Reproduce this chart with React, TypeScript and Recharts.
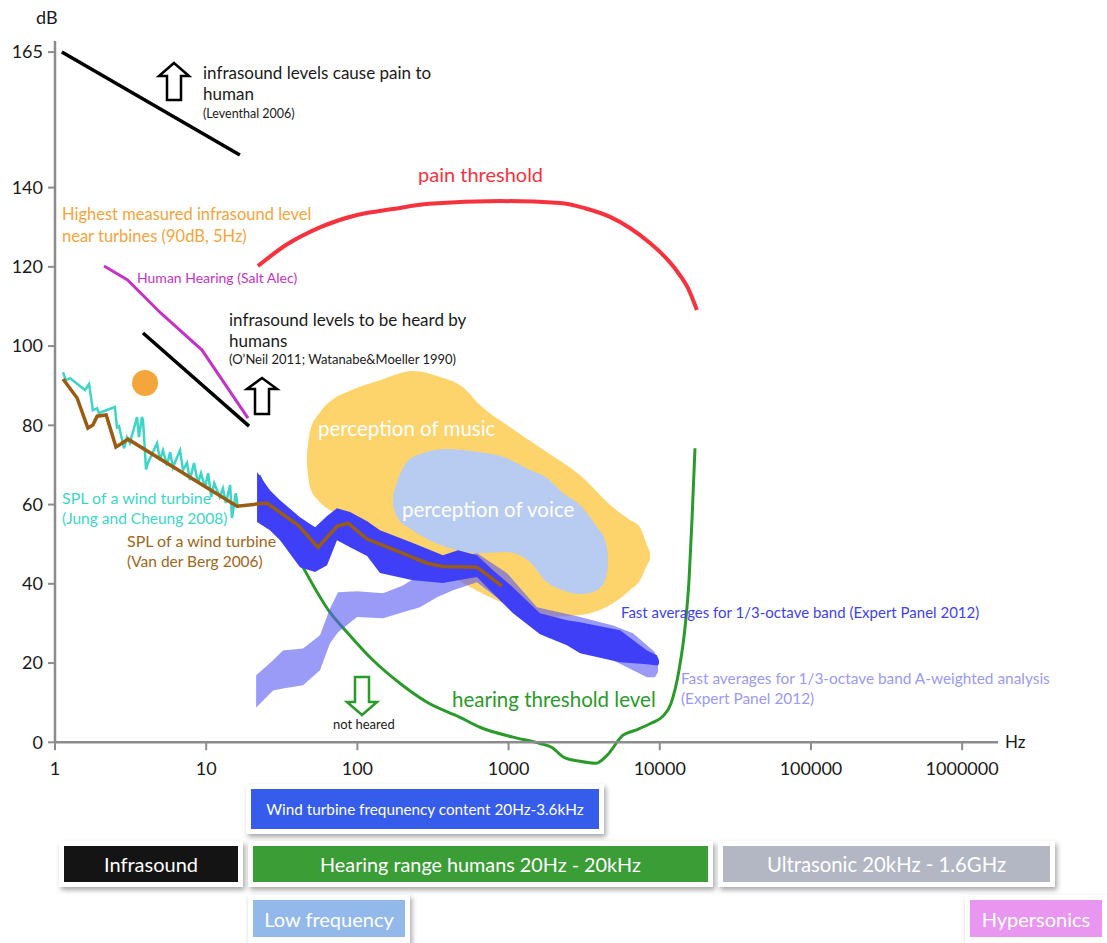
import React from 'react';
import { ComposedChart, Line, Area, Scatter, XAxis, YAxis, ReferenceLine, ReferenceDot } from 'recharts';

// ---------- axis ticks ----------
const freqTicks = [1, 10, 100, 1000, 10000, 100000, 1000000];
const dbTicks = [0, 20, 40, 60, 80, 100, 120, 140, 174.2];
const topTickLabel = '165';

// ---------- series (Hz, dB) ----------
const painInfraHz = [1.11, 16.7];
const painInfraDb = [174.2, 148.2];

const heardInfraHz = [3.82, 19.2];
const heardInfraDb = [103.3, 79.8];

const saltHz = [2.11, 3.02, 5.02, 9.38, 18.9];
const saltDb = [120.2, 116.7, 108.3, 99.0, 81.8];

const painHz = [22.0, 33.7, 57.5, 99.4, 172, 298, 877, 2190, 3200, 4690, 6350, 8610, 10820, 13000, 15370, 17600];
const painDb = [120.2, 125.5, 130.1, 133.1, 134.6, 135.9, 136.6, 136.1, 134.8, 132.6, 129.8, 126.0, 122.5, 118.9, 114.6, 109.1];

const jungHz = [1.13, 1.18, 1.26, 1.58, 1.68, 1.78, 1.9, 1.95, 2.49, 2.57, 2.65, 2.86, 2.99, 3.13, 3.49, 3.59, 3.76, 3.82, 4.0, 4.12, 4.73, 4.95, 5.18, 5.5, 5.77, 6.03, 6.71, 7.03, 7.46, 7.81, 8.3, 8.83, 9.24, 9.82, 10.3, 10.8, 11.3, 12.0, 12.3, 12.9, 13.5, 14.4, 14.8, 15.7, 16.2];
const jungDb = [93.4, 91.4, 91.9, 88.9, 90.4, 83.8, 84.3, 83.1, 84.6, 79.5, 79.8, 74.2, 77.0, 75.5, 82.1, 77.0, 82.1, 81.3, 68.9, 70.5, 75.5, 71.2, 73.7, 69.9, 73.2, 69.4, 73.7, 68.7, 70.5, 66.2, 70.5, 65.4, 67.9, 64.4, 67.9, 61.9, 65.4, 62.9, 61.9, 64.1, 60.4, 64.9, 56.6, 62.9, 59.1];

const vdbHz = [1.13, 1.4, 1.65, 1.78, 1.9, 2.18, 2.53, 3.04, 16.0, 25.2, 40.5, 54.9, 73.3, 86.7, 116, 191, 289, 368, 618, 904];
const vdbDb = [91.7, 86.9, 79.3, 80.1, 82.3, 82.6, 74.5, 76.5, 59.6, 60.4, 54.8, 49.2, 54.5, 55.3, 51.3, 48.0, 45.2, 44.4, 44.2, 39.4];

const hearingHz = [22.4, 25.6, 33.2, 43.7, 65.9, 85.4, 127, 191, 289, 477, 647, 1070, 1614, 1936, 2324, 2966, 3785, 4477, 5715, 6860, 8750, 10500, 11860, 13400, 14690, 15610, 16330, 17100];
const hearingDb = [67.4, 62.4, 53.0, 44.2, 32.8, 27.8, 20.7, 14.9, 10.1, 6.3, 3.8, 1.3, -0.3, -1.3, -3.8, -4.8, -5.3, -3.3, 1.8, 3.0, 4.8, 6.6, 9.8, 18.2, 29.0, 40.9, 56.1, 74.2];

const turbineMaxHz = [3.94];
const turbineMaxDb = [90.7];

// band: Fast averages 1/3-octave (Expert Panel 2012)
const fastHz = [21.7, 26.4, 30.8, 41.7, 52.5, 63.0, 73.3, 89.4, 116, 141, 233, 368, 463, 618, 789, 1070, 1614, 2432, 2970, 5458, 8230, 9575, 9880];
const fastHi = [68.2, 63.6, 61.1, 56.8, 54.3, 57.1, 59.1, 58.1, 55.8, 53.5, 50.3, 47.2, 48.5, 47.2, 43.4, 39.1, 32.6, 30.8, 30.3, 28.3, 23.2, 22.0, 20.7];
const fastLo = [55.6, 53.5, 51.0, 44.2, 43.0, 44.7, 51.0, 49.2, 47.0, 42.7, 40.9, 40.2, 40.9, 41.7, 37.6, 32.6, 27.3, 24.5, 22.5, 20.2, 19.7, 19.4, 19.7];

// band: A-weighted
const aHz = [21.4, 27.7, 32.2, 43.7, 56.6, 65.9, 74.5, 99.4, 148, 200, 259, 336, 429, 618, 975, 1540, 2970, 4900, 6650, 8230, 9290, 9730];
const aHi = [16.9, 20.7, 23.2, 23.7, 27.0, 33.8, 37.9, 38.1, 37.6, 39.6, 42.2, 44.7, 46.7, 47.7, 42.7, 34.1, 31.6, 29.5, 27.5, 24.5, 22.7, 19.4];
const aLo = [8.8, 13.1, 13.6, 14.4, 18.2, 25.0, 27.8, 31.6, 31.3, 32.8, 34.1, 36.6, 38.4, 40.4, 34.6, 28.3, 23.2, 20.7, 18.2, 16.4, 16.4, 17.7];

// perception of music
const musicHz = [46.4, 48.6, 56.6, 69.0, 85.4, 141, 233, 352, 499, 647, 1070, 1795, 2970, 4900, 6350, 7400, 8230, 8610];
const musicHi = [72.5, 78.5, 83.3, 86.6, 88.4, 91.4, 93.7, 92.2, 89.6, 85.1, 79.0, 73.2, 67.4, 59.3, 56.1, 54.3, 49.8, 48.0];
const musicLo = [69.9, 64.4, 60.6, 58.1, 55.6, 52.3, 47.3, 43.4, 40.2, 37.9, 34.1, 31.6, 32.1, 35.1, 38.4, 40.9, 44.7, 46.0];

// perception of voice
const voiceHz = [172, 183, 233, 391, 647, 975, 1386, 1795, 2290, 2970, 3845, 4340, 4540];
const voiceHi = [62.4, 65.7, 72.0, 74.0, 73.2, 71.7, 68.7, 66.7, 62.9, 59.8, 54.3, 51.0, 47.7];
const voiceLo = [59.8, 56.8, 53.5, 49.2, 47.7, 48.0, 45.5, 40.4, 38.4, 37.4, 38.4, 40.9, 43.9];

// ---------- merged table for the chart ----------
type Row = { x: number; [k: string]: number };
const rowMap = new Map<number, Row>();
function put(key: string, xs: number[], ys: number[]) {
  xs.forEach((x, i) => {
    let r = rowMap.get(x);
    if (!r) { r = { x }; rowMap.set(x, r); }
    r[key] = ys[i];
  });
}
put('painInfra', painInfraHz, painInfraDb);
put('heardInfra', heardInfraHz, heardInfraDb);
put('salt', saltHz, saltDb);
put('pain', painHz, painDb);
put('jung', jungHz, jungDb);
put('vdb', vdbHz, vdbDb);
put('hearing', hearingHz, hearingDb);
put('fastHi', fastHz, fastHi);
put('fastLo', fastHz, fastLo);
put('aHi', aHz, aHi);
put('aLo', aHz, aLo);
put('musicHi', musicHz, musicHi);
put('musicLo', musicHz, musicLo);
put('voiceHi', voiceHz, voiceHi);
put('voiceLo', voiceHz, voiceLo);
const table = Array.from(rowMap.values()).sort((a, b) => a.x - b.x);
const dotData = turbineMaxHz.map((x, i) => ({ x, y: turbineMaxDb[i] }));

const range = (lo: string, hi: string) => (d: Row) =>
  d[lo] != null && d[hi] != null ? [d[lo], d[hi]] : [null, null];

// ---------- annotations ----------
const notes = [
  { t: 'dB', x: 36, y: 18, s: 18, c: '#1a1a1a' },
  { t: 'Hz', x: 1005, y: 743, s: 17, c: '#1a1a1a' },
  { t: 'infrasound levels cause pain to', x: 203, y: 74, s: 17, c: '#1a1a1a' },
  { t: 'human', x: 203, y: 95, s: 17, c: '#1a1a1a' },
  { t: '(Leventhal 2006)', x: 203, y: 114, s: 12.5, c: '#1a1a1a' },
  { t: 'pain threshold', x: 418, y: 174, s: 20, c: '#f7323f' },
  { t: 'Highest measured infrasound level', x: 62, y: 215, s: 16.5, c: '#f5a43a' },
  { t: 'near turbines (90dB, 5Hz)', x: 62, y: 237, s: 16.5, c: '#f5a43a' },
  { t: 'Human Hearing (Salt Alec)', x: 137, y: 279, s: 14, c: '#c533c5' },
  { t: 'infrasound levels to be heard by', x: 229, y: 321, s: 17, c: '#1a1a1a' },
  { t: 'humans', x: 229, y: 342, s: 17, c: '#1a1a1a' },
  { t: '(O\u2019Neil 2011; Watanabe&Moeller 1990)', x: 229, y: 360, s: 13, c: '#1a1a1a' },
  { t: 'perception of music', x: 318, y: 429, s: 20.5, c: '#ffffff' },
  { t: 'perception of voice', x: 402, y: 510, s: 20.5, c: '#ffffff' },
  { t: 'SPL of a wind turbine', x: 62, y: 498, s: 16, c: '#3dd6c6' },
  { t: '(Jung and Cheung 2008)', x: 62, y: 519, s: 15.5, c: '#3dd6c6' },
  { t: 'SPL of a wind turbine', x: 127, y: 541, s: 16, c: '#a0661a' },
  { t: '(Van der Berg 2006)', x: 127, y: 562, s: 15.5, c: '#a0661a' },
  { t: 'Fast averages for 1/3-octave band (Expert Panel 2012)', x: 621, y: 612, s: 15, c: '#3f3ff5' },
  { t: 'Fast averages for 1/3-octave band A-weighted analysis', x: 681, y: 679, s: 15.4, c: '#9a9af5' },
  { t: '(Expert Panel 2012)', x: 681, y: 699, s: 15.4, c: '#9a9af5' },
  { t: 'hearing threshold level', x: 452, y: 700, s: 20.5, c: '#2a9a2a' },
  { t: 'not heared', x: 333, y: 725, s: 13, c: '#1a1a1a' },
];

const boxes = [
  { t: 'Wind turbine frequnency content 20Hz-3.6kHz', x: 246, y: 784, w: 358, h: 50, bg: '#355cea', s: 15.3 },
  { t: 'Infrasound', x: 59, y: 841, w: 184, h: 46, bg: '#141414', s: 20 },
  { t: 'Hearing range humans 20Hz - 20kHz', x: 248, y: 841, w: 465, h: 46, bg: '#3a9d36', s: 19.8 },
  { t: 'Ultrasonic 20kHz - 1.6GHz', x: 718, y: 841, w: 337, h: 46, bg: '#b3b7c4', s: 20.3 },
  { t: 'Low frequency', x: 248, y: 895, w: 162, h: 48, bg: '#92b9ea', s: 20 },
  { t: 'Hypersonics', x: 965, y: 895, w: 142, h: 48, bg: '#e896f0', s: 20 },
];

const AXIS = '#8c8c8c';

export default function App() {
  return (
    <div style={{ position: 'absolute', left: 0, top: 0, width: 1107, height: 943, background: '#fff', fontFamily: 'Lato, "Open Sans", sans-serif', overflow: 'hidden' }}>
      <ComposedChart width={1107} height={943} data={table} margin={{ top: 41, right: 109, bottom: 169, left: 0 }}>
        <XAxis dataKey="x" type="number" scale="log" domain={[1, 1726000]} allowDataOverflow hide />
        <YAxis
          type="number"
          domain={[-8, 177]}
          ticks={dbTicks}
          interval={0}
          width={55}
          axisLine={false}
          tickLine={{ stroke: AXIS, strokeWidth: 2 }}
          tickSize={7}
          tickMargin={5}
          tick={{ fill: '#1a1a1a', fontSize: 18 }}
          tickFormatter={(v: number) => (v > 150 ? topTickLabel : String(v))}
        />
        <Area type="monotone" dataKey={range('musicLo', 'musicHi')} fill="#fdd36c" fillOpacity={1} stroke="none" connectNulls isAnimationActive={false} dot={false} activeDot={false} />
        <Area type="monotone" dataKey={range('voiceLo', 'voiceHi')} fill="#b8cbf0" fillOpacity={1} stroke="none" connectNulls isAnimationActive={false} dot={false} activeDot={false} />
        <Area type="monotone" dataKey="hearing" fill="none" stroke="#2a9a2a" strokeWidth={3} connectNulls isAnimationActive={false} dot={false} activeDot={false} />
        <Area type="linear" dataKey={range('aLo', 'aHi')} fill="#5c5cf2" fillOpacity={0.62} stroke="none" connectNulls isAnimationActive={false} dot={false} activeDot={false} />
        <Area type="linear" dataKey={range('fastLo', 'fastHi')} fill="#3f3ff8" fillOpacity={1} stroke="none" connectNulls isAnimationActive={false} dot={false} activeDot={false} />
        <Line type="linear" dataKey="jung" stroke="#3dd6c6" strokeWidth={2.5} dot={false} connectNulls isAnimationActive={false} />
        <Line type="linear" dataKey="vdb" stroke="#9a5c12" strokeWidth={3.5} dot={false} connectNulls isAnimationActive={false} />
        <Line type="monotone" dataKey="pain" stroke="#f7323f" strokeWidth={4} dot={false} connectNulls isAnimationActive={false} />
        <Line type="linear" dataKey="salt" stroke="#c533c5" strokeWidth={3} dot={false} connectNulls isAnimationActive={false} />
        <Line type="linear" dataKey="painInfra" stroke="#000" strokeWidth={3.5} dot={false} connectNulls isAnimationActive={false} />
        <Line type="linear" dataKey="heardInfra" stroke="#000" strokeWidth={3.5} dot={false} connectNulls isAnimationActive={false} />
        <Scatter data={dotData} dataKey="y" isAnimationActive={false} shape={(p: any) => <circle cx={p.cx} cy={p.cy} r={13} fill="#f4a63c" />} />
        <ReferenceLine y={0} stroke={AXIS} strokeWidth={2.5} />
        <ReferenceLine segment={[{ x: 1, y: 0 }, { x: 1, y: 177 }]} stroke={AXIS} strokeWidth={2.5} />
        {freqTicks.map((v) => (
          <ReferenceLine key={'t' + v} segment={[{ x: v, y: 0 }, { x: v, y: -2 }]} stroke={AXIS} strokeWidth={2} />
        ))}
        {freqTicks.map((v) => (
          <ReferenceDot key={'l' + v} x={v} y={-6.6} r={0} fill="none" stroke="none" label={{ value: String(v), position: 'center', fill: '#1a1a1a', fontSize: 18 }} />
        ))}
      </ComposedChart>

      <svg width={1107} height={943} style={{ position: 'absolute', left: 0, top: 0, pointerEvents: 'none' }}>
        <path d="M174,63 L189,76 L181,76 L181,100 L167,100 L167,76 L159,76 Z" fill="#fff" stroke="#000" strokeWidth={2.5} strokeLinejoin="miter" />
        <path d="M262,378 L277,389 L269,389 L269,414 L255,414 L255,389 L247,389 Z" fill="#fff" stroke="#000" strokeWidth={2.5} />
        <path d="M355,677 L369,677 L369,702 L377,702 L362,715 L347,702 L355,702 Z" fill="#fff" stroke="#2a9a2a" strokeWidth={2.5} />
      </svg>

      {notes.map((n, i) => (
        <div key={i} style={{ position: 'absolute', left: n.x, top: n.y - n.s * 0.62, fontSize: n.s, lineHeight: 1.2, color: n.c, whiteSpace: 'nowrap' }}>{n.t}</div>
      ))}

      {boxes.map((b, i) => (
        <div key={'b' + i} style={{ position: 'absolute', left: b.x, top: b.y, width: b.w, height: b.h, background: '#fff', boxShadow: '2px 3px 5px rgba(0,0,0,0.35)', padding: 5, boxSizing: 'border-box' }}>
          <div style={{ width: '100%', height: b.h >= 48 && b.y > 890 ? 37 : '100%', background: b.bg, color: '#fff', fontSize: b.s, display: 'flex', alignItems: 'center', justifyContent: 'center', whiteSpace: 'nowrap' }}>{b.t}</div>
        </div>
      ))}
    </div>
  );
}
